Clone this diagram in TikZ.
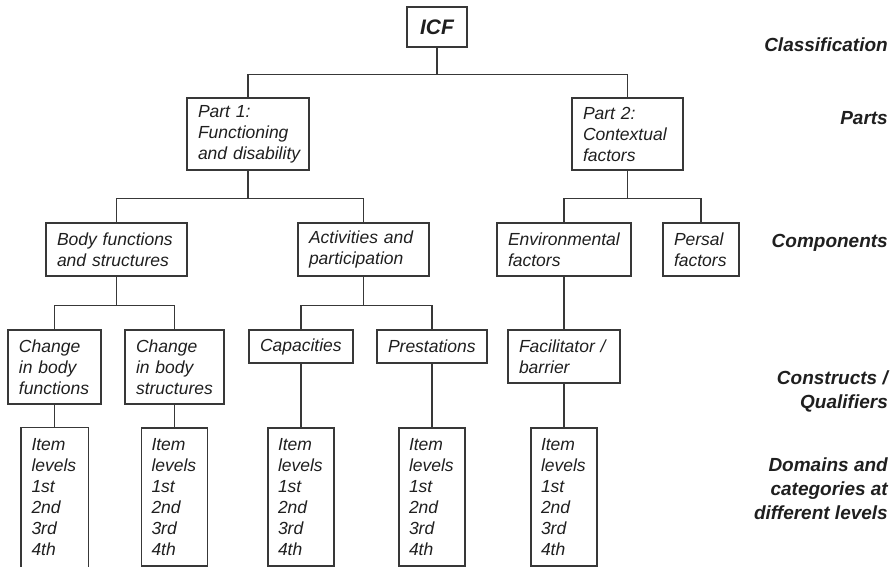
\documentclass[tikz,border=0pt]{standalone}
\usepackage{fontspec}
\setmainfont{Liberation Sans}
\begin{document}
\begin{tikzpicture}[x=1pt,y=-1pt,
  line/.style={draw=black!78, line width=1.1pt},
  box/.style={line, rectangle, inner ysep=0pt, inner xsep=11pt, align=left,
    font=\itshape\fontsize{17.5}{21}\selectfont, text=black!88},
  itembox/.style={box, inner xsep=10pt, minimum width=66, text width=46, minimum height=138},
  lvl/.style={anchor=east, align=right, inner sep=0pt,
    font=\bfseries\itshape\fontsize{19}{24}\selectfont, text=black!88}
]
\useasboundingbox (0,0) rectangle (894,567);

% classification root
\node[line, rectangle, minimum width=60, minimum height=40, inner sep=0pt,
  font=\bfseries\itshape\fontsize{21}{24}\selectfont, text=black!88] (icf) at (437,27) {ICF};

% parts
\node[box, minimum width=122, text width=100, minimum height=72] (p1) at (248,134)
  {Part 1:\\Functioning\\\mbox{and disability}};
\node[box, minimum width=111, text width=89, minimum height=72] (p2) at (627.5,134)
  {Part 2:\\Contextual\\factors};

% components
\node[box, minimum width=141, text width=119, minimum height=53] (bf) at (116.5,249.5)
  {\mbox{Body functions}\\\mbox{and structures}};
\node[box, minimum width=131, text width=109, minimum height=53] (ap) at (363.5,249.5)
  {\mbox{Activities and}\\participation};
\node[box, minimum width=134, text width=112, minimum height=53] (ef) at (564,249.5)
  {Environmental\\factors};
\node[box, minimum width=76, text width=54, minimum height=53] (pf) at (701,249.5)
  {Persal\\factors};

% constructs / qualifiers
\node[box, minimum width=93, text width=71, minimum height=74] (cf) at (54.5,367)
  {Change\\\mbox{in body}\\functions};
\node[box, minimum width=99, text width=77, minimum height=74] (cs) at (174.5,367)
  {Change\\\mbox{in body}\\structures};
\node[box, minimum width=104, text width=82, minimum height=33] (ca) at (301,346.5)
  {Capacities};
\node[box, minimum width=110, text width=88, minimum height=33] (pr) at (432,346.5)
  {Prestations};
\node[box, minimum width=112, text width=90, minimum height=53] (fb) at (564,356.5)
  {\mbox{Facilitator /}\\barrier};

% item levels
\node[itembox, draw=none] (i1) at (54.5,497) {Item\\levels\\1st\\2nd\\3rd\\4th};
\node[itembox] (i2) at (174.5,497) {Item\\levels\\1st\\2nd\\3rd\\4th};
\node[itembox] (i3) at (301,497) {Item\\levels\\1st\\2nd\\3rd\\4th};
\node[itembox] (i4) at (432,497) {Item\\levels\\1st\\2nd\\3rd\\4th};
\node[itembox] (i5) at (564,497) {Item\\levels\\1st\\2nd\\3rd\\4th};
\draw[line] ([yshift=-6pt]i1.south west) -- (i1.north west) -- (i1.north east)
  -- ([yshift=-6pt]i1.south east);

% tree connectors
\draw[line] (icf.south) -- ++(0,27) coordinate (j0);
\draw[line] (p1.north) |- (j0) -| (p2.north);
\draw[line] (p1.south) -- ++(0,28) coordinate (j1);
\draw[line] (bf.north) |- (j1) -| (ap.north);
\draw[line] (p2.south) -- ++(0,28) coordinate (j2);
\draw[line] (ef.north) |- (j2) -| (pf.north);
\draw[line] (bf.south) -- ++(0,29) coordinate (j3);
\draw[line] (cf.north) |- (j3) -| (cs.north);
\draw[line] (ap.south) -- ++(0,29) coordinate (j4);
\draw[line] (ca.north) |- (j4) -| (pr.north);
\draw[line] (ef.south) -- (fb.north);
\draw[line] (cf.south) -- (i1.north);
\draw[line] (cs.south) -- (i2.north);
\draw[line] (ca.south) -- (i3.north);
\draw[line] (pr.south) -- (i4.north);
\draw[line] (fb.south) -- (i5.north);

% level labels
\node[lvl] (l1) at (888,45) {Classification};
\node[lvl] (l2) at (888,118) {Parts};
\node[lvl] (l3) at (888,243) {Components};
\node[lvl] (l4) at (888,391) {Constructs /\\Qualifiers};
\node[lvl] (l5) at (888,489) {Domains and\\categories at\\different levels};
\end{tikzpicture}
\end{document}
